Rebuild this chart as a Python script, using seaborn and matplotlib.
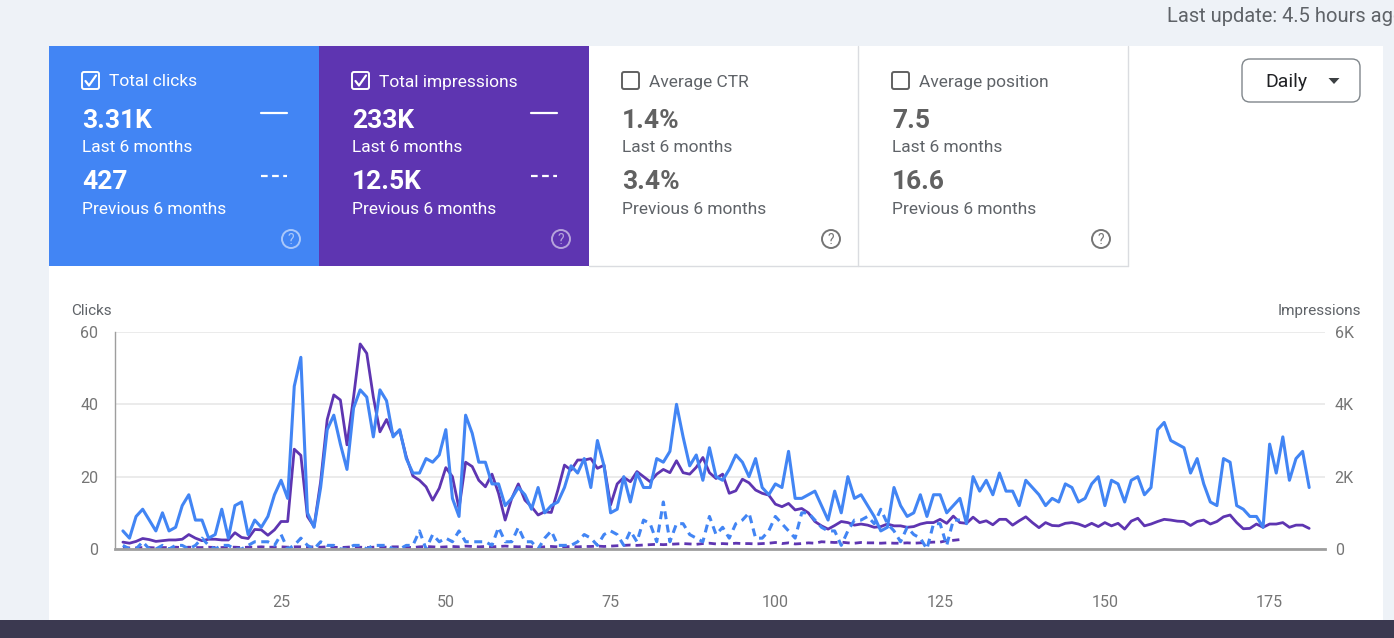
import matplotlib

matplotlib.use('Agg')
import matplotlib.pyplot as plt
import numpy as np
import seaborn as sns
from matplotlib.patches import Rectangle, FancyBboxPatch, Circle, Polygon

# ---- data ----
clicks = [5, 3, 9, 11, 8, 5, 10, 5, 6, 12, 15, 8, 8, 3, 4, 11, 3, 12, 13, 4,
          8, 6, 9, 15, 19, 14, 45, 53, 10, 6,
          17, 33, 37, 29, 22, 39, 44, 42, 31, 44, 41, 31, 33, 25, 21, 21, 25, 24, 26, 33,
          14, 9, 37, 32, 24, 24, 18, 18, 12, 14, 17, 15,
          11, 17, 10, 12, 13, 17, 23, 21, 25, 17, 30, 23, 10, 11, 20, 13, 21, 17,
          17, 25, 24, 27, 40, 31, 23, 26, 19, 28, 20, 19, 22,
          26, 24, 20, 25, 17, 15, 18, 17, 27, 14, 14, 15, 16, 12, 8, 16, 10, 20, 14, 15,
          12, 9, 5, 6, 17, 12, 9, 10, 15, 9, 15,
          15, 10, 12, 14, 7, 20, 16, 19, 15, 21, 16, 16, 12, 19, 17, 15, 12, 14, 13, 18,
          17, 13, 14, 18, 20, 12, 19, 18, 13, 19, 20,
          15, 17, 33, 35, 30, 29, 28, 21, 25, 18, 13, 12, 25, 24, 12, 11, 9, 9, 6, 29,
          21, 31, 19, 25, 27, 17]

impressions = [190, 160, 210, 290, 260, 210, 230, 250, 250, 270, 400, 300, 230, 270, 270,
               250, 250, 450, 320, 290, 540, 530, 380, 530, 760, 760, 2760, 2590, 900, 620,
               1860, 3580, 4260, 4120, 2880, 4200, 5670, 5410, 4200, 3240, 3580, 3140, 3270,
               2550, 2020, 1900, 1720, 1350, 1680, 2250, 2000, 1120, 2400, 2280, 1900, 1720,
               2070, 1540, 800, 1400, 1800, 1350,
               1170, 940, 1030, 1010, 1630, 2320, 2180, 2460, 2460, 2500, 2230, 2320, 1220,
               1800, 1980, 1860, 2140, 2000, 1860, 2070, 2200, 2110, 2440, 2110, 2070, 2260,
               2530, 2110, 1950, 2070, 1540,
               1610, 1930, 1830, 1630, 1540, 1490, 1240, 1170, 1260, 1080, 1120, 1000, 760,
               640, 550, 650, 760, 730, 660, 690, 660, 600, 620, 690, 640, 640, 600, 620, 690,
               730, 730,
               820, 710, 910, 730, 710, 880, 730, 780, 670, 820, 820, 660, 780, 890, 730, 590,
               730, 650, 640, 710, 730, 690, 620, 710, 620, 730, 640, 710, 550, 770, 850,
               640, 690, 760, 820, 800, 770, 760, 650, 760, 800, 690, 760, 890, 940, 730, 560,
               570, 690, 600, 690, 690, 730, 600, 660, 660, 570]

prev_clicks = [1, 0, 0, 2, 0, 0, 1, 0, 1, 1, 0, 1, 3, 1, 0, 1, 1, 0, 0, 1,
               2, 2, 2, 1, 4, 0, 1, 3, 1, 0,
               2, 1, 1, 0, 0, 1, 1, 0, 1, 1, 1, 0, 0, 1, 1, 5, 0, 4, 2, 3,
               2, 5, 2, 2, 2, 2, 1, 6, 2, 2, 6, 2,
               2, 0, 3, 5, 1, 1, 1, 2, 4, 3, 1, 4, 5, 4, 1, 5, 2, 8, 7, 2,
               13, 2, 7, 7, 4, 3, 2, 9, 4, 6, 3,
               7, 8, 10, 3, 3, 5, 9, 7, 5, 3, 10, 10, 8, 6, 5, 5, 1, 5, 8, 8,
               9, 7, 11, 7, 5, 2, 6, 4, 3, 0, 7,
               7, 1, 8, 8]

prev_impressions = [40, 30, 30, 40, 40, 30, 40, 40, 50, 40, 50, 40, 40, 50, 40, 40, 50, 50,
                    40, 50, 50, 60, 50, 50, 60, 50, 60, 60, 50, 60,
                    50, 60, 50, 40, 50, 60, 50, 40, 50, 60, 50, 60, 60, 50, 40, 60, 70, 60,
                    50, 60, 70, 60, 80, 70, 60, 70, 60, 70, 80, 70, 60, 70,
                    60, 50, 60, 70, 60, 60, 70, 60, 70, 70, 80, 70, 80, 90, 100, 110, 100,
                    110, 120, 130, 120, 130, 140, 150, 140, 130, 150, 160, 140, 150, 140,
                    160, 150, 150, 140, 150, 160, 180, 150, 170, 140, 150, 170, 160, 200,
                    190, 180, 190, 170, 160, 180, 170, 170, 160, 170, 160, 160, 170, 160,
                    170, 180, 190,
                    190, 230, 240, 260]

days = list(range(1, len(clicks) + 1))
prev_days = list(range(1, len(prev_clicks) + 1))
x_ticks = [25, 50, 75, 100, 125, 150, 175]
click_ticks = [0, 20, 40, 60]
impr_ticks = [0, 2000, 4000, 6000]
impr_labels = ['0', '2K', '4K', '6K']

cards = [
    ('Total clicks', '3.31K', '427', True),
    ('Total impressions', '233K', '12.5K', True),
    ('Average CTR', '1.4%', '3.4%', False),
    ('Average position', '7.5', '16.6', False),
]

BLUE = '#4285f4'
PURPLE = '#5e35b1'
W, H = 1394, 638

sns.set_theme(style='white')
plt.rcParams['font.family'] = ['Roboto', 'DejaVu Sans']

fig = plt.figure(figsize=(W / 100, H / 100), dpi=100)
fig.patch.set_facecolor('#eef2f7')

# pixel-coordinate layer for the page furniture
bg = fig.add_axes([0, 0, 1, 1])
bg.set_xlim(0, W)
bg.set_ylim(H, 0)
bg.axis('off')
bg.set_zorder(-1)

bg.add_patch(Rectangle((49, 46), 1334, 574, facecolor='white', edgecolor='none'))
bg.add_patch(Rectangle((0, 620), W, 18, facecolor='#3b3950', edgecolor='none'))
bg.text(1167, 16, 'Last update: 4.5 hours ago', fontsize=14.5, color='#5f6368',
        va='center', ha='left')

card_fill = [BLUE, PURPLE, 'white', 'white']
for k, (title, cur, prev, checked) in enumerate(cards):
    x0 = 49 + 270 * k
    bg.add_patch(Rectangle((x0, 46), 270, 220, facecolor=card_fill[k], edgecolor='none'))
    fg = 'white' if checked else '#616161'
    lab = 'white' if checked else '#5f6368'
    bx = x0 + 33
    bg.add_patch(FancyBboxPatch((bx, 72), 17, 17, boxstyle='round,pad=0,rounding_size=2',
                                facecolor='none', edgecolor=fg, lw=1.4))
    if checked:
        bg.plot([bx + 3.5, bx + 7, bx + 14], [81, 85.5, 75.5], color='white', lw=1.6,
                solid_capstyle='round')
    bg.text(bx + 27, 82, title, fontsize=12.5, color=lab, va='center')
    bg.text(bx, 121, cur, fontsize=19, fontweight='bold', color=fg, va='center')
    bg.text(bx, 147, 'Last 6 months', fontsize=12.5, color=lab, va='center')
    bg.text(bx, 182, prev, fontsize=19, fontweight='bold', color=fg, va='center')
    bg.text(bx, 209, 'Previous 6 months', fontsize=12.5, color=lab, va='center')
    if checked:
        bg.plot([x0 + 212, x0 + 238], [113, 113], color='white', lw=1.6)
        bg.plot([x0 + 212, x0 + 238], [176, 176], color='white', lw=1.6,
                linestyle=(0, (3, 2)))
        ring = (1, 1, 1, 0.55)
    else:
        ring = '#757575'
    bg.add_patch(Circle((x0 + 242, 239), 9, facecolor='none', edgecolor=ring, lw=1.4))
    bg.text(x0 + 242, 239.5, '?', fontsize=10, color=ring, ha='center', va='center')

# borders of the white cards
bg.plot([858, 858], [46, 266], color='#dadce0', lw=1)
bg.plot([1128, 1128], [46, 266], color='#dadce0', lw=1)
bg.plot([589, 1128], [266, 266], color='#dadce0', lw=1)

# "Daily" dropdown
bg.add_patch(FancyBboxPatch((1242, 59), 118, 43, boxstyle='round,pad=0,rounding_size=8',
                            facecolor='white', edgecolor='#80868b', lw=1))
bg.text(1265, 82, 'Daily', fontsize=14, color='#202124', va='center')
bg.add_patch(Polygon([(1328.5, 78), (1339.5, 78), (1334, 84)], closed=True,
                     facecolor='#3c4043', edgecolor='none'))

bg.text(71, 311, 'Clicks', fontsize=11, color='#5f6368', va='center')
bg.text(1361, 311, 'Impressions', fontsize=11, color='#5f6368', va='center', ha='right')

# ---- chart ----
left, right, top, bottom = 115, 1325, 332, 549
ax = fig.add_axes([left / W, (H - bottom) / H, (right - left) / W, (bottom - top) / H])
ax2 = ax.twinx()
ax.set_zorder(ax2.get_zorder() + 1)
ax.patch.set_visible(False)
ax2.patch.set_visible(False)

sns.lineplot(x=prev_days, y=prev_impressions, ax=ax2, color=PURPLE, linewidth=2.0,
             linestyle=(0, (2.6, 1.8)))
sns.lineplot(x=days, y=impressions, ax=ax2, color=PURPLE, linewidth=2.0)
sns.lineplot(x=prev_days, y=prev_clicks, ax=ax, color=BLUE, linewidth=2.2,
             linestyle=(0, (2.6, 1.8)))
sns.lineplot(x=days, y=clicks, ax=ax, color=BLUE, linewidth=2.2)

ax.set_xlim(-0.2, 183.4)
ax.set_ylim(0, 60)
ax2.set_ylim(0, 6000)
ax.set_xticks(x_ticks)
ax.set_yticks(click_ticks)
ax2.set_yticks(impr_ticks)
ax2.set_yticklabels(impr_labels)
ax.set_xlabel('')
ax.set_ylabel('')
ax2.set_ylabel('')

ax2.yaxis.grid(True, color='#e8e8e8', lw=1.2)
ax2.set_axisbelow(True)
ax.grid(False)
ax2.xaxis.grid(False)

ax.tick_params(axis='y', length=0, pad=12, labelsize=11.5, labelcolor='#757575')
ax.tick_params(axis='x', length=0, pad=33, labelsize=11.5, labelcolor='#757575')
ax2.tick_params(axis='y', length=0, pad=7, labelsize=11.5, labelcolor='#757575')

for s in ['top', 'right']:
    ax.spines[s].set_visible(False)
for s in ax2.spines.values():
    s.set_visible(False)
ax.spines['left'].set_color('#9e9e9e')
ax.spines['left'].set_linewidth(1)
ax.spines['bottom'].set_color('#9e9e9e')
ax.spines['bottom'].set_linewidth(2)

plt.savefig('out.png', dpi=100, facecolor=fig.get_facecolor())
